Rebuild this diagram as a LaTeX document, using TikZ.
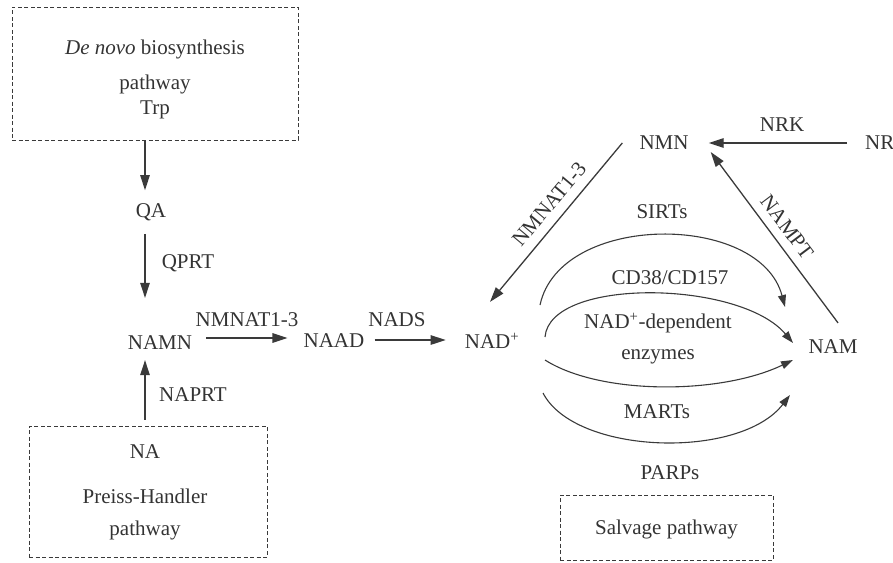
\documentclass[tikz,border=0pt]{standalone}
\usepackage{fontspec}
\setmainfont{Liberation Serif}
\usetikzlibrary{arrows.meta}
\definecolor{ink}{HTML}{333333}
\definecolor{ln}{HTML}{3A3A3A}
\tikzset{
  lab/.style={inner sep=0pt, text=ink, font=\fontsize{21}{25}\selectfont},
  dbox/.style={draw=ln, dashed, dash pattern=on 4pt off 2.5pt, line width=0.9pt, inner sep=0pt},
  arr/.style={draw=ln, line width=1.3pt, -{Triangle[length=15pt,width=9.5pt]}},
  arc/.style={draw=ln, line width=1.1pt, -{Triangle[length=12pt,width=8pt]}},
  plain/.style={draw=ln, line width=1.2pt}
}
\begin{document}
\begin{tikzpicture}[x=1pt,y=-1pt]
\useasboundingbox (0,0) rectangle (893,562);
% boxes
\node[dbox, minimum width=286pt, minimum height=133pt] (denovo) at (155,73.5) {};
\node[lab] (dn1) at (155,49) {\textit{De novo} biosynthesis};
\node[lab] (dn2) at (155,84) {pathway};
\node[lab] (dn3) at (155,110) {Trp};
\node[dbox, minimum width=238pt, minimum height=131pt] (phbox) at (148,491.5) {};
\node[lab] (na) at (145,452) {NA};
\node[lab] (ph1) at (145,496) {Preiss-Handler};
\node[lab] (ph2) at (145,530) {pathway};
\node[dbox, minimum width=213pt, minimum height=65pt] (salv) at (666.5,527.5) {};
\node[lab] (salvt) at (666.5,529) {Salvage pathway};
% metabolites
\coordinate (ax) at (145,0);
\node[lab] (QA) at (151,212) {QA};
\node[lab] (NAMN) at (160,343) {NAMN};
\node[lab] (NAAD) at (334,341) {NAAD};
\node[lab] (NAD) at (492,341) {NAD\textsuperscript{+}};
\node[lab] (NMN) at (664,143) {NMN};
\node[lab, anchor=west] (NR) at (865,143) {NR};
\node[lab] (NAM) at (833,347) {NAM};
% enzyme labels
\node[lab] (qprt) at (188,263) {QPRT};
\node[lab] (naprt) at (193,395) {NAPRT};
\node[lab] (nmnat1) at (247,320) {NMNAT1-3};
\node[lab] (nads) at (397,320) {NADS};
\node[lab] (nrk) at (782,125) {NRK};
\node[lab, rotate=50] (nmnat2) at (549,204) {NMNAT1-3};
\node[lab, rotate=-53] (nampt) at (787,227) {NAMPT};
\node[lab] (sirts) at (662,212) {SIRTs};
\node[lab] (cd38) at (670,278) {CD38/CD157};
\node[lab] (nadd) at (658,323) {NAD\textsuperscript{+}-dependent};
\node[lab] (enz) at (658,357) {enzymes};
\node[lab] (marts) at (657,412) {MARTs};
\node[lab] (parps) at (670,473) {PARPs};
% connectors
\draw[arr, shorten >=13pt] (denovo.south -| ax) -- (QA.north -| ax);
\draw[arr, shorten <=13pt, shorten >=38pt] (QA.south -| ax) -- (NAMN.north -| ax);
\draw[arr, shorten <=6pt, shorten >=10pt] (phbox.north -| ax) -- (NAMN.south -| ax);
\draw[arr, shorten <=14pt, shorten >=16pt] ([yshift=5pt]NAMN.east) -- ([yshift=3pt]NAAD.west);
\draw[arr, shorten <=10pt, shorten >=19pt] ([yshift=1pt]NAAD.east) -- ([yshift=1pt]NAD.west);
\draw[arr] ([xshift=-17pt]NMN.west) -- ([xshift=-2pt,yshift=31pt]NAD.north);
\draw[arr, shorten <=18pt, shorten >=20pt] (NR.west) -- (NMN.east);
\draw[arr] ([xshift=5pt,yshift=17pt]NAM.north) -- ([xshift=22pt,yshift=-9pt]NMN.east);
% arcs
\draw[arc] ([shift={(48,-36)}]NAD.center) .. controls (560,212) and (760,212) .. ([shift={(-48,-40)}]NAM.center);
\draw[arc] ([shift={(53,-4)}]NAD.center) .. controls (550,277) and (740,280) .. ([shift={(-40,-4)}]NAM.center);
\draw[arc] ([shift={(53,19)}]NAD.center) .. controls (600,395) and (720,395) .. ([shift={(-40,13)}]NAM.center);
\draw[arc] ([shift={(51,52)}]NAD.center) .. controls (575,455) and (740,460) .. ([shift={(-43,48)}]NAM.center);
\end{tikzpicture}
\end{document}
